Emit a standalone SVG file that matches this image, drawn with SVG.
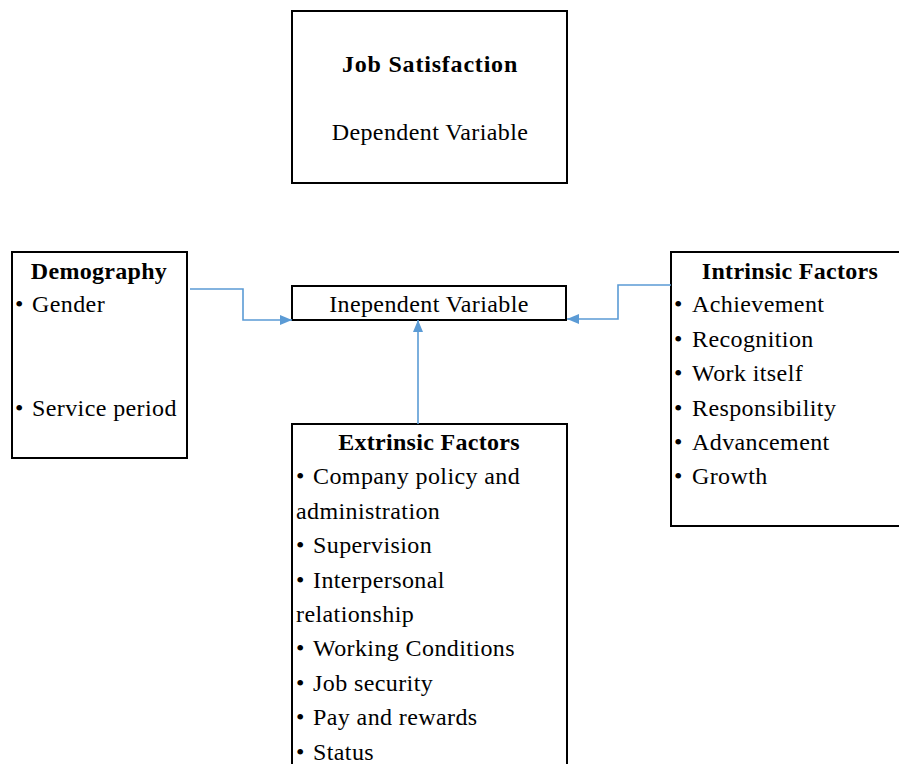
<svg xmlns="http://www.w3.org/2000/svg" width="899" height="764" viewBox="0 0 899 764">
<style>
.box{fill:#fff;stroke:#000;stroke-width:2}
text{font-family:"Liberation Serif","Times New Roman",serif;font-size:24px;letter-spacing:0.4px;fill:#000}
.b{font-weight:bold;letter-spacing:0.3px}
.c{text-anchor:middle}
.conn{fill:none;stroke:#5B9BD5;stroke-width:1.6}
</style>
<defs>
<marker id="arr" viewBox="0 0 12 10" refX="12" refY="5" markerWidth="12" markerHeight="10" markerUnits="userSpaceOnUse" orient="auto">
<path d="M0,0 L12,5 L0,10 z" fill="#5B9BD5"/>
</marker>
</defs>
<rect width="899" height="764" fill="#fff"/>
<g id="job-satisfaction">
<rect class="box" x="292" y="11" width="275" height="172"/>
<text class="b c" x="430" y="72" style="letter-spacing:0.8px">Job Satisfaction</text>
<text class="c" x="430" y="140">Dependent Variable</text>
</g>
<g id="independent-variable">
<rect class="box" x="292" y="286" width="274" height="34"/>
<text class="c" x="429" y="312">Inependent Variable</text>
</g>
<g id="demography">
<rect class="box" x="12" y="252" width="175" height="206"/>
<text class="b c" x="99" y="279">Demography</text>
<text x="15" y="312">•</text><text x="32" y="312">Gender</text>
<text x="15" y="416">•</text><text x="32" y="416">Service period</text>
</g>
<g id="intrinsic">
<rect class="box" x="671" y="252" width="240" height="274"/>
<text class="b c" x="790" y="279">Intrinsic Factors</text>
<text x="674" y="312">•</text><text x="692" y="312">Achievement</text>
<text x="674" y="347">•</text><text x="692" y="347">Recognition</text>
<text x="674" y="381">•</text><text x="692" y="381">Work itself</text>
<text x="674" y="416">•</text><text x="692" y="416">Responsibility</text>
<text x="674" y="450">•</text><text x="692" y="450">Advancement</text>
<text x="674" y="484">•</text><text x="692" y="484">Growth</text>
</g>
<g id="extrinsic">
<rect class="box" x="292" y="424" width="275" height="360"/>
<text class="b c" x="429" y="450">Extrinsic Factors</text>
<text x="296" y="484">•</text><text x="313" y="484">Company policy and</text>
<text x="296" y="519">administration</text>
<text x="296" y="553">•</text><text x="313" y="553">Supervision</text>
<text x="296" y="588">•</text><text x="313" y="588">Interpersonal</text>
<text x="296" y="622">relationship</text>
<text x="296" y="656">•</text><text x="313" y="656">Working Conditions</text>
<text x="296" y="691">•</text><text x="313" y="691">Job security</text>
<text x="296" y="725">•</text><text x="313" y="725">Pay and rewards</text>
<text x="296" y="760">•</text><text x="313" y="760">Status</text>
</g>
<g id="connectors">
<path class="conn" d="M190,289 H243 V320 H292" marker-end="url(#arr)"/>
<path class="conn" d="M671,285 H618 V319 H567" marker-end="url(#arr)"/>
<path class="conn" d="M418,424 V320" marker-end="url(#arr)"/>
</g>
</svg>
